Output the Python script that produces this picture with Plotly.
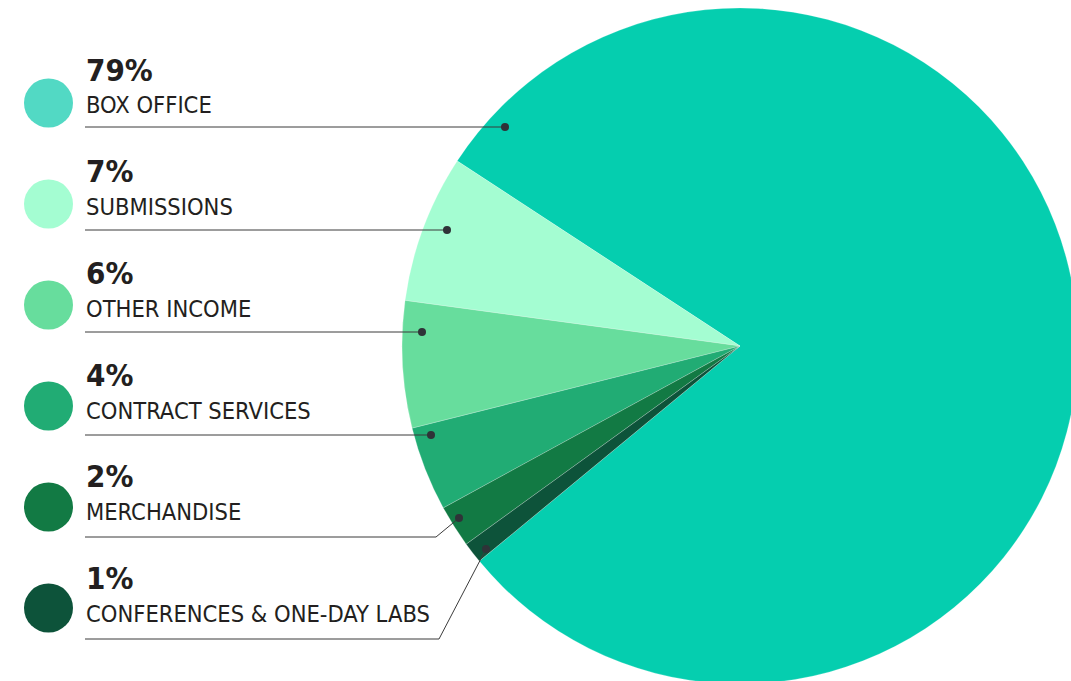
import plotly.graph_objects as go

# canvas slightly larger than the 1071x681 window so the pie can bleed off the edges
W, H = 1078, 684

categories = ["BOX OFFICE", "SUBMISSIONS", "OTHER INCOME", "CONTRACT SERVICES",
              "MERCHANDISE", "CONFERENCES & ONE-DAY LABS"]
shares = [79, 7, 6, 4, 2, 1]
share_labels = ["79%", "7%", "6%", "4%", "2%", "1%"]
slice_colors = ["#05CEAF", "#A4FDD2", "#67DD9D", "#21AC74", "#127A44", "#0D533A"]
key_colors = ["#52D9C4", "#A4FDD2", "#67DD9D", "#21AC74", "#127A44", "#0D533A"]

FONT = "DejaVu Sans Condensed, Roboto, sans-serif"
INK = "#231f20"
LEAD = "#3b3b3b"


def px(x):
    return x / W


def py(y):
    return 1 - y / H


fig = go.Figure()
fig.add_trace(go.Pie(
    labels=categories, values=shares, sort=False,
    direction="counterclockwise", rotation=-56.8,
    marker=dict(colors=slice_colors, line=dict(color="rgba(255,255,255,0.35)", width=0.6)),
    textinfo="none", hoverinfo="label+percent",
    domain=dict(x=[px(402), 1.0], y=[0, py(8)]),
    showlegend=False,
))

shapes = []
annotations = []
step = 101.7
# leader lines: (line y, bend x, dot x, dot y)
leaders = [
    (127, None, 505, 127),
    (230, None, 447, 230),
    (332, None, 422, 332),
    (435, None, 431, 435),
    (537, 436, 459, 518),
    (639, 439, 486, 549),
]
for i, cat in enumerate(categories):
    cy = 103 + i * 101
    shapes.append(dict(type="circle", xref="paper", yref="paper",
                       x0=px(24), x1=px(73), y0=py(cy + 24.5), y1=py(cy - 24.5),
                       fillcolor=key_colors[i], line=dict(width=0)))
    annotations.append(dict(x=px(84), y=py(69.5 + i * step), xref="paper", yref="paper",
                            xanchor="left", yanchor="middle", showarrow=False,
                            text="<b>" + share_labels[i] + "</b>",
                            font=dict(family=FONT, size=31, color=INK)))
    annotations.append(dict(x=px(84), y=py(105.5 + i * step), xref="paper", yref="paper",
                            xanchor="left", yanchor="middle", showarrow=False,
                            text=cat, font=dict(family=FONT, size=23.5, color=INK)))
    ly, bx, dx, dy = leaders[i]
    if bx is None:
        shapes.append(dict(type="line", xref="paper", yref="paper",
                           x0=px(85), x1=px(dx), y0=py(ly), y1=py(ly),
                           line=dict(color=LEAD, width=1)))
    else:
        shapes.append(dict(type="path", xref="paper", yref="paper",
                           path=f"M {px(85)},{py(ly)} L {px(bx)},{py(ly)} L {px(dx)},{py(dy)}",
                           line=dict(color=LEAD, width=1)))
    shapes.append(dict(type="circle", xref="paper", yref="paper",
                       x0=px(dx - 4), x1=px(dx + 4), y0=py(dy + 4), y1=py(dy - 4),
                       fillcolor="#2f3338", line=dict(width=0)))

fig.update_layout(
    width=W, height=H,
    margin=dict(l=0, r=0, t=0, b=0),
    paper_bgcolor="white", plot_bgcolor="white",
    shapes=shapes, annotations=annotations,
)

# drop the default page margin and clip the overflow to the window
fig.write_html("out.html", config={"displayModeBar": False},
               post_script="document.body.style.margin='0';document.body.style.overflow='hidden';")
